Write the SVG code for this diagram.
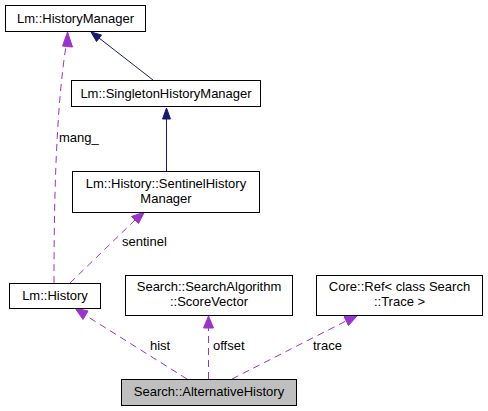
<svg xmlns="http://www.w3.org/2000/svg" width="488" height="411" viewBox="0 0 488 411">
<style>
.box{fill:#fff;stroke:#000;stroke-width:1}
.cur{fill:#bfbfbf;stroke:#000;stroke-width:1}
text{font-family:"Liberation Sans",Arial,sans-serif;font-size:13px;fill:#000}
.c{text-anchor:middle}
.inh{fill:none;stroke:#191970;stroke-width:1}
.inhh{fill:#191970;stroke:#191970}
.use{fill:none;stroke:#9a32cd;stroke-width:1;stroke-dasharray:7,5}
.useh{fill:#9a32cd;stroke:#9a32cd}
</style>
<rect width="488" height="411" fill="#fff"/>
<g id="edges">
<path class="inh" d="M153,80 L99,38"/>
<polygon class="inhh" points="91,32 101.5,35 96.5,41.5"/>
<path class="inh" d="M166.5,171 L166.5,119"/>
<polygon class="inhh" points="166.5,108 170.5,119 162.5,119"/>
<path class="use" d="M54,283 C54,200 56,110 66,46"/>
<polygon class="useh" points="67.5,32 72.5,47 62.5,46"/>
<path class="use" d="M70,283 L135,220"/>
<polygon class="useh" points="144.5,212 138.5,223.5 131.5,216.5"/>
<path class="use" d="M187,379 L85,315"/>
<polygon class="useh" points="75,308 88,311 83,319.5"/>
<path class="use" d="M208.5,379 L208.5,327"/>
<polygon class="useh" points="208.5,316 213.5,328 203.5,328"/>
<path class="use" d="M232,379 L346,321"/>
<polygon class="useh" points="357,316 348.5,325.5 344,316.5"/>
<text x="59" y="142">mang_</text>
<text x="122" y="246">sentinel</text>
<text x="150" y="350">hist</text>
<text x="213" y="350">offset</text>
<text x="313" y="350">trace</text>
</g>
<g id="HistoryManager">
<rect class="box" x="5.5" y="5.5" width="140" height="26"/>
<text class="c" x="75.5" y="22.5">Lm::HistoryManager</text>
</g>
<g id="SingletonHistoryManager">
<rect class="box" x="71.5" y="80.5" width="189" height="26"/>
<text class="c" x="166" y="97.5">Lm::SingletonHistoryManager</text>
</g>
<g id="SentinelHistoryManager">
<rect class="box" x="72.5" y="171.5" width="187" height="41"/>
<text class="c" x="166" y="187.5">Lm::History::SentinelHistory</text>
<text class="c" x="166" y="202.5">Manager</text>
</g>
<g id="History">
<rect class="box" x="9.5" y="283.5" width="91" height="25"/>
<text class="c" x="55" y="300">Lm::History</text>
</g>
<g id="ScoreVector">
<rect class="box" x="125.5" y="275.5" width="167" height="40"/>
<text class="c" x="209" y="290.5">Search::SearchAlgorithm</text>
<text class="c" x="209" y="305.5">::ScoreVector</text>
</g>
<g id="CoreRef">
<rect class="box" x="316.5" y="275.5" width="166" height="40"/>
<text class="c" x="399.5" y="290.5">Core::Ref&lt; class Search</text>
<text class="c" x="399.5" y="305.5">::Trace &gt;</text>
</g>
<g id="AlternativeHistory">
<rect class="cur" x="121.5" y="379.5" width="175" height="26"/>
<text class="c" x="209" y="396">Search::AlternativeHistory</text>
</g>
</svg>
